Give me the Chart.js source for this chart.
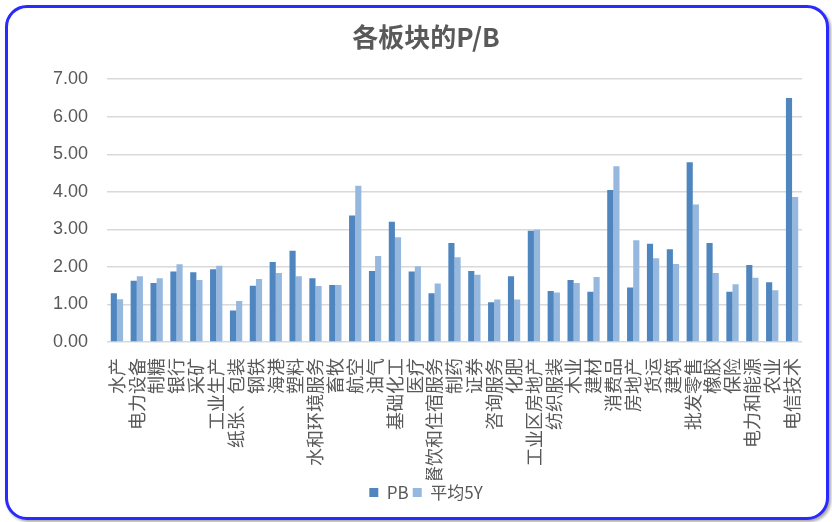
<!DOCTYPE html>
<html>
<head>
<meta charset="utf-8">
<script src="https://cdn.jsdelivr.net/npm/chart.js@4.4.1/dist/chart.umd.min.js"></script>
<style>
  html, body { margin: 0; padding: 0; background: #ffffff; }
  #frame {
    position: absolute; left: 5px; top: 5px; width: 818px; height: 509px;
    border: 3px solid #2a2aff; border-radius: 22px;
    box-shadow: 2px 2px 3px rgba(0,0,0,0.35);
    background: #ffffff;
  }
  #wrap { position: absolute; left: 0; top: 0; width: 832px; height: 522px; }
</style>
</head>
<body>
<div id="frame"></div>
<div id="wrap"><canvas id="c" width="832" height="522"></canvas></div>
<script>
const categories = ["水产","电力设备","制糖","银行","采矿","工业生产","纸张、包装","钢铁","海港","塑料","水和环境服务","畜牧","航空","油气","基础化工","医疗","餐饮和住宿服务","制药","证券","咨询服务","化肥","工业区房地产","纺织服装","木业","建材","消费品","房地产","货运","建筑","批发零售","橡胶","保险","电力和能源","农业","电信技术"];
const pbValues = [1.30,1.63,1.57,1.88,1.86,1.94,0.84,1.50,2.13,2.43,1.70,1.52,3.37,1.89,3.20,1.88,1.30,2.64,1.89,1.06,1.75,2.96,1.36,1.65,1.34,4.05,1.45,2.62,2.47,4.79,2.64,1.34,2.05,1.59,6.50];
const avg5yValues = [1.14,1.75,1.70,2.07,1.65,2.03,1.09,1.68,1.84,1.75,1.49,1.52,4.16,2.29,2.79,2.02,1.56,2.26,1.79,1.13,1.13,2.99,1.32,1.57,1.73,4.68,2.71,2.23,2.08,3.66,1.84,1.54,1.71,1.38,3.86];
const yTicks = [0,1,2,3,4,5,6,7];

const grey = '#595959';
new Chart(document.getElementById('c'), {
  type: 'bar',
  data: {
    labels: categories,
    datasets: [
      { label: 'PB', data: pbValues, backgroundColor: '#4f86bf', borderWidth: 0,
        categoryPercentage: 0.62, barPercentage: 1.0 },
      { label: '平均5Y', data: avg5yValues, backgroundColor: '#96b8df', borderWidth: 0,
        categoryPercentage: 0.62, barPercentage: 1.0 }
    ]
  },
  options: {
    responsive: false,
    animation: false,
    layout: { padding: { left: 50, right: 30, top: 0, bottom: 11 } },
    plugins: {
      title: {
        display: true, text: '各板块的P/B', color: grey,
        font: { family: '"Noto Sans CJK SC", sans-serif', size: 26, weight: 'bold', lineHeight: 1.2 },
        padding: { top: 22, bottom: 26 }
      },
      legend: {
        display: true, position: 'bottom',
        labels: {
          color: grey, boxWidth: 9, boxHeight: 9, padding: 4,
          font: { family: '"Noto Sans CJK SC", sans-serif', size: 17 }
        }
      },
      tooltip: { enabled: false }
    },
    scales: {
      x: {
        grid: { display: false },
        border: { display: false },
        ticks: {
          color: grey, autoSkip: false, minRotation: 90, maxRotation: 90, padding: 8,
          font: { family: '"Noto Sans CJK SC", sans-serif', size: 18 }
        },
        afterFit: (s) => { s.height = 138; }
      },
      y: {
        min: 0, max: 7,
        afterBuildTicks: (s) => { s.ticks = yTicks.map(v => ({ value: v })); },
        grid: { color: '#d9d9d9', lineWidth: 1.5, drawTicks: false },
        border: { display: false },
        ticks: {
          color: grey, padding: 19,
          font: { family: '"Liberation Sans", sans-serif', size: 18 },
          callback: (v) => Number(v).toFixed(2)
        },
        afterFit: (s) => { s.width = 57; }
      }
    }
  }
});
</script>
</body>
</html>
